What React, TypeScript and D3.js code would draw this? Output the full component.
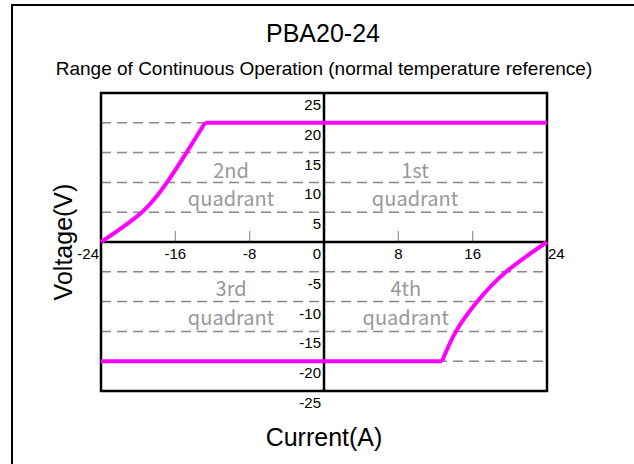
import React from 'react'
import * as d3 from 'd3'

const xTicks = [-24, -16, -8, 8, 16, 24]
const yTicks = [25, 20, 15, 10, 5, 0, -5, -10, -15, -20, -25]
const gridLevels = [20, 15, 10, 5, -5, -10, -15, -20]
const minorXTicks = [-16, -8, 8, 16]

// boundary of the operating range (current A, voltage V)
const q2Curve: [number, number][] = [[-24, 0], [-19.6, 5], [-16.9, 10], [-14.8, 15], [-12.8, 20]]
const q2Flat: [number, number][] = [[-12.8, 20], [24, 20]]
const q4Curve: [number, number][] = [[12.7, -20], [14.2, -15], [16.5, -10], [19.6, -5], [24, 0]]
const q4Flat: [number, number][] = [[-24, -20], [12.7, -20]]

const quadrants = [
  { name: '2nd', i: -10, top: 178, bottom: 206 },
  { name: '1st', i: 9.8, top: 178, bottom: 206 },
  { name: '3rd', i: -10, top: 296, bottom: 325 },
  { name: '4th', i: 8.8, top: 296, bottom: 325 },
]

const App = () => {
  const width = 634
  const height = 464
  const x = d3.scaleLinear().domain([-24, 24]).range([101, 547])
  const y = d3.scaleLinear().domain([-25, 25]).range([391, 93])

  const curve = d3.line<[number, number]>()
    .x((d) => x(d[0]))
    .y((d) => y(d[1]))
    .curve(d3.curveNatural)
  const straight = d3.line<[number, number]>()
    .x((d) => x(d[0]))
    .y((d) => y(d[1]))

  const font = 'Arial, "Liberation Sans", sans-serif'
  const quadFont = '"Noto Sans CJK JP", "Noto Sans", sans-serif'

  return (
    <svg width={width} height={height} style={{ position: 'absolute', left: 0, top: 0, background: '#fff' }}>
      <rect x={12} y={5} width={640} height={480} fill="#fff" stroke="#000" strokeWidth={2} />

      <text x={323} y={42} textAnchor="middle" fontFamily={font} fontSize={25}>PBA20-24</text>
      <text x={324} y={75} textAnchor="middle" fontFamily={font} fontSize={19}>
        Range of Continuous Operation (normal temperature reference)
      </text>

      {gridLevels.map((v) => (
        <line key={v} x1={x(-24)} x2={x(24)} y1={y(v)} y2={y(v)}
          stroke="#888" strokeWidth={1.5} strokeDasharray="10,6" />
      ))}

      {minorXTicks.map((t) => (
        <line key={t} x1={x(t)} x2={x(t)} y1={y(0) - 11} y2={y(0)} stroke="#999" strokeWidth={1.3} />
      ))}

      {quadrants.map((q) => (
        <g key={q.name} fill="#999" fontFamily={quadFont} fontSize={20} textAnchor="middle">
          <text x={x(q.i)} y={q.top}>{q.name}</text>
          <text x={x(q.i)} y={q.bottom}>quadrant</text>
        </g>
      ))}

      <rect x={x(-24)} y={y(25)} width={x(24) - x(-24)} height={y(-25) - y(25)}
        fill="none" stroke="#000" strokeWidth={2.5} />
      <line x1={x(-24)} x2={x(24)} y1={y(0)} y2={y(0)} stroke="#000" strokeWidth={2.5} />
      <line x1={x(0)} x2={x(0)} y1={y(25)} y2={y(-25)} stroke="#000" strokeWidth={2.5} />

      <g fill="none" stroke="#ff00ff" strokeWidth={4} strokeLinejoin="round">
        <path d={curve(q2Curve) ?? ''} />
        <path d={straight(q2Flat) ?? ''} />
        <path d={curve(q4Curve) ?? ''} />
        <path d={straight(q4Flat) ?? ''} />
      </g>

      <g fontFamily={font} fontSize={15}>
        {yTicks.map((v) => (
          <text key={v} x={x(0) - 3} y={y(v) + 17} textAnchor="end">{v}</text>
        ))}
        {xTicks.map((t) => (
          <text key={t} x={t === -24 ? x(t) - 2 : t === 24 ? x(t) + 1 : x(t)} y={y(0) + 17}
            textAnchor={t === -24 ? 'end' : t === 24 ? 'start' : 'middle'}>{t}</text>
        ))}
      </g>

      <text x={324} y={446} textAnchor="middle" fontFamily={font} fontSize={25}>Current(A)</text>
      <text transform={`translate(72,242) rotate(-90)`} textAnchor="middle" fontFamily={font} fontSize={25}>Voltage(V)</text>
    </svg>
  )
}

export default App
